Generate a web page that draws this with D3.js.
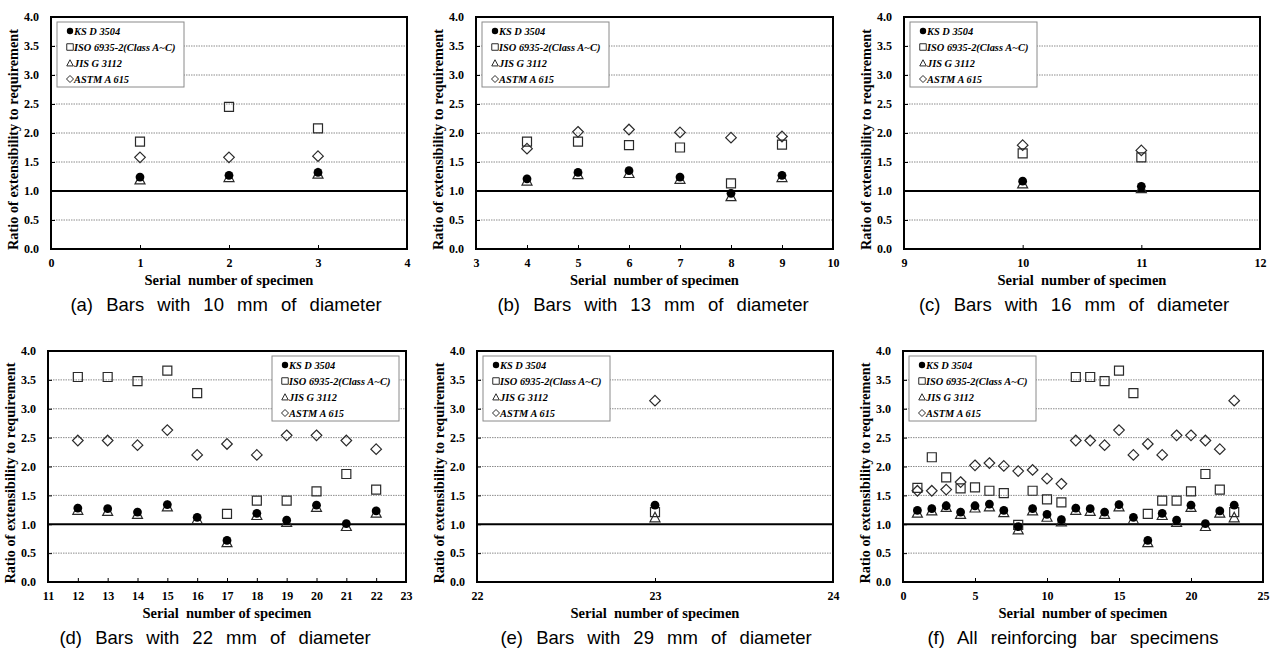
<!DOCTYPE html>
<html>
<head>
<meta charset="utf-8">
<script src="https://cdn.jsdelivr.net/npm/d3@7"></script>
<style>
  html, body { margin: 0; padding: 0; background: #fff; }
  svg { display: block; }
</style>
</head>
<body>
<svg id="chart" width="1273" height="651"></svg>
<script>
// ---------------- DATA ----------------
const seriesNames = ["KS D 3504", "ISO 6935-2(Class A~C)", "JIS G 3112", "ASTM A 615"];
const yTickValues = [0, 0.5, 1.0, 1.5, 2.0, 2.5, 3.0, 3.5, 4.0];
const requirementLevel = 1.0;

// (a) 10 mm
const specimensA = [1, 2, 3];
const ksA   = [1.24, 1.27, 1.32];
const isoA  = [1.85, 2.45, 2.08];
const jisA  = [1.20, 1.24, 1.30];
const astmA = [1.58, 1.58, 1.60];
const xTicksA = [0, 1, 2, 3, 4];

// (b) 13 mm
const specimensB = [4, 5, 6, 7, 8, 9];
const ksB   = [1.21, 1.32, 1.35, 1.24, 0.96, 1.27];
const isoB  = [1.85, 1.85, 1.79, 1.75, 1.13, 1.80];
const jisB  = [1.18, 1.29, 1.31, 1.21, 0.91, 1.24];
const astmB = [1.73, 2.02, 2.06, 2.01, 1.92, 1.94];
const xTicksB = [3, 4, 5, 6, 7, 8, 9, 10];

// (c) 16 mm
const specimensC = [10, 11];
const ksC   = [1.17, 1.08];
const isoC  = [1.65, 1.58];
const jisC  = [1.13, 1.05];
const astmC = [1.79, 1.70];
const xTicksC = [9, 10, 11, 12];

// (d) 22 mm
const specimensD = [12, 13, 14, 15, 16, 17, 18, 19, 20, 21, 22];
const ksD   = [1.28, 1.27, 1.21, 1.34, 1.12, 0.72, 1.19, 1.07, 1.33, 1.01, 1.23];
const isoD  = [3.55, 3.55, 3.48, 3.66, 3.27, 1.18, 1.41, 1.41, 1.57, 1.87, 1.60];
const jisD  = [1.25, 1.23, 1.18, 1.31, 1.09, 0.69, 1.16, 1.04, 1.30, 0.97, 1.20];
const astmD = [2.45, 2.45, 2.37, 2.63, 2.20, 2.39, 2.20, 2.54, 2.54, 2.45, 2.30];
const xTicksD = [11, 12, 13, 14, 15, 16, 17, 18, 19, 20, 21, 22, 23];

// (e) 29 mm
const specimensE = [23];
const ksE   = [1.33];
const isoE  = [1.21];
const jisE  = [1.12];
const astmE = [3.14];
const xTicksE = [22, 23, 24];

// (f) all specimens (ISO values for specimens 1-11 as plotted in panel f)
const isoAll1to11 = [1.63, 2.16, 1.81, 1.62, 1.64, 1.58, 1.54, 0.99, 1.58, 1.43, 1.38];
const xTicksF = [0, 5, 10, 15, 20, 25];

const captions = [
  "(a) Bars with 10 mm of diameter",
  "(b) Bars with 13 mm of diameter",
  "(c) Bars with 16 mm of diameter",
  "(d) Bars with 22 mm of diameter",
  "(e) Bars with 29 mm of diameter",
  "(f) All reinforcing bar specimens"
];
const yAxisTitle = "Ratio of extensibility to requirement";
const xAxisTitle = "Serial\u00a0 number of specimen";

// ---------------- LAYOUT ----------------
const panels = [
  { rect: [51, 17, 407, 249], xd: [0, 4], ticks: xTicksA, sp: specimensA, ks: ksA, iso: isoA, jis: jisA, astm: astmA, cap: captions[0], capX: 226, legendRight: false },
  { rect: [476, 17, 833, 249], xd: [3, 10], ticks: xTicksB, sp: specimensB, ks: ksB, iso: isoB, jis: jisB, astm: astmB, cap: captions[1], capX: 653, legendRight: false },
  { rect: [904, 17, 1260, 249], xd: [9, 12], ticks: xTicksC, sp: specimensC, ks: ksC, iso: isoC, jis: jisC, astm: astmC, cap: captions[2], capX: 1074, legendRight: false },
  { rect: [48, 351, 406, 582], xd: [11, 23], ticks: xTicksD, sp: specimensD, ks: ksD, iso: isoD, jis: jisD, astm: astmD, cap: captions[3], capX: 215, legendRight: true },
  { rect: [477, 351, 833, 582], xd: [22, 24], ticks: xTicksE, sp: specimensE, ks: ksE, iso: isoE, jis: jisE, astm: astmE, cap: captions[4], capX: 656, legendRight: false },
  { rect: [903, 351, 1263, 582], xd: [0, 25], ticks: xTicksF,
    sp: [].concat(specimensA, specimensB, specimensC, specimensD, specimensE),
    ks: [].concat(ksA, ksB, ksC, ksD, ksE),
    iso: [].concat(isoAll1to11, isoD, isoE),
    jis: [].concat(jisA, jisB, jisC, jisD, jisE),
    astm: [].concat(astmA, astmB, astmC, astmD, astmE),
    cap: captions[5], capX: 1073, legendRight: false }
];

const SERIF = "Liberation Serif, Times New Roman, serif";
const SANS = "Liberation Sans, Arial, sans-serif";
const svg = d3.select("#chart");

function markerPath(type, s) {
  const h = s / 2;
  if (type === "square") return `M${-h},${-h}H${h}V${h}H${-h}Z`;
  if (type === "triangle") return `M0,${-h}L${h},${h * 0.9}L${-h},${h * 0.9}Z`;
  if (type === "diamond") return `M0,${-h}L${h},0L0,${h}L${-h},0Z`;
  return "";
}

function drawMarker(g, type, x, y, big) {
  if (type === "circle") {
    g.append("circle").attr("cx", x).attr("cy", y).attr("r", big ? 4.4 : 3.2).attr("fill", "#000");
  } else {
    const size = big ? (type === "diamond" ? 10.6 : (type === "triangle" ? 10 : 9)) : (type === "diamond" ? 7 : 6.5);
    g.append("path").attr("d", markerPath(type, size))
      .attr("transform", `translate(${x},${y})`)
      .attr("fill", "none").attr("stroke", "#2a2a2a").attr("stroke-width", big ? 1.2 : 1);
  }
}

panels.forEach(p => {
  const [x0, y0, x1, y1] = p.rect;
  const g = svg.append("g");
  const x = d3.scaleLinear().domain(p.xd).range([x0, x1]);
  const y = d3.scaleLinear().domain([0, 4]).range([y1, y0]);

  // gridlines
  g.append("g").selectAll("line")
    .data(yTickValues.filter(v => v > 0 && v < 4 && v !== requirementLevel))
    .join("line")
    .attr("x1", x0).attr("x2", x1)
    .attr("y1", d => y(d)).attr("y2", d => y(d))
    .attr("stroke", "#8c8c8c").attr("stroke-width", 1).attr("stroke-dasharray", "1.5,1");

  // requirement line
  g.append("line").attr("x1", x0).attr("x2", x1)
    .attr("y1", y(requirementLevel)).attr("y2", y(requirementLevel))
    .attr("stroke", "#000").attr("stroke-width", 2);

  // y axis
  const yAxis = d3.axisLeft(y).tickValues(yTickValues).tickFormat(d3.format(".1f")).tickSize(-4).tickPadding(12);
  const ya = g.append("g").attr("transform", `translate(${x0},0)`).call(yAxis);
  ya.select(".domain").remove();
  ya.selectAll("line").attr("stroke", "#000");
  ya.selectAll("text").attr("font-family", SERIF).attr("font-weight", "bold").attr("font-size", 12).attr("fill", "#000");

  // x axis
  const xAxis = d3.axisBottom(x).tickValues(p.ticks).tickFormat(d3.format("d")).tickSize(-4).tickPadding(9.5);
  const xa = g.append("g").attr("transform", `translate(0,${y1})`).call(xAxis);
  xa.select(".domain").remove();
  xa.selectAll("line").attr("stroke", "#000");
  xa.selectAll("text").attr("font-family", SERIF).attr("font-weight", "bold").attr("font-size", 12).attr("fill", "#000");

  // frame
  g.append("rect").attr("x", x0).attr("y", y0).attr("width", x1 - x0).attr("height", y1 - y0)
    .attr("fill", "none").attr("stroke", "#000").attr("stroke-width", 2);

  // legend
  const lw = 127, lh = 65;
  const lx = p.legendRight ? x1 - 7 - lw : x0 + 6;
  const ly = y0 + 5;
  const lg = g.append("g");
  lg.append("rect").attr("x", lx).attr("y", ly).attr("width", lw).attr("height", lh)
    .attr("fill", "#fff").attr("stroke", "#8a8a8a").attr("stroke-width", 1);
  const types = ["circle", "square", "triangle", "diamond"];
  seriesNames.forEach((name, i) => {
    const cy = ly + 9 + i * 16;
    drawMarker(lg, types[i], lx + 13, cy, false);
    lg.append("text").attr("x", lx + 17).attr("y", cy + 4)
      .attr("font-family", SERIF).attr("font-weight", "bold").attr("font-style", "italic")
      .attr("font-size", 10.4).attr("fill", "#000").text(name);
  });

  // data markers
  const mg = g.append("g");
  p.sp.forEach((s, i) => drawMarker(mg, "triangle", x(s), y(p.jis[i]), true));
  p.sp.forEach((s, i) => drawMarker(mg, "square", x(s), y(p.iso[i]), true));
  p.sp.forEach((s, i) => drawMarker(mg, "diamond", x(s), y(p.astm[i]), true));
  p.sp.forEach((s, i) => drawMarker(mg, "circle", x(s), y(p.ks[i]), true));

  // axis titles
  g.append("text")
    .attr("transform", `translate(${x0 - 33},${(y0 + y1) / 2 + 6.5}) rotate(-90)`)
    .attr("text-anchor", "middle")
    .attr("font-family", SERIF).attr("font-weight", "bold").attr("font-size", 14.3).attr("fill", "#000")
    .text(yAxisTitle);
  g.append("text")
    .attr("x", (x0 + x1) / 2).attr("y", y1 + 36)
    .attr("text-anchor", "middle")
    .attr("font-family", SERIF).attr("font-weight", "bold").attr("font-size", 14.5).attr("fill", "#000")
    .text(xAxisTitle);

  // caption
  g.append("text")
    .attr("x", p.capX).attr("y", y1 + 62)
    .attr("text-anchor", "middle")
    .attr("font-family", SANS).attr("font-size", 18.5).attr("fill", "#000")
    .attr("word-spacing", 8)
    .text(p.cap);
});
</script>
</body>
</html>
